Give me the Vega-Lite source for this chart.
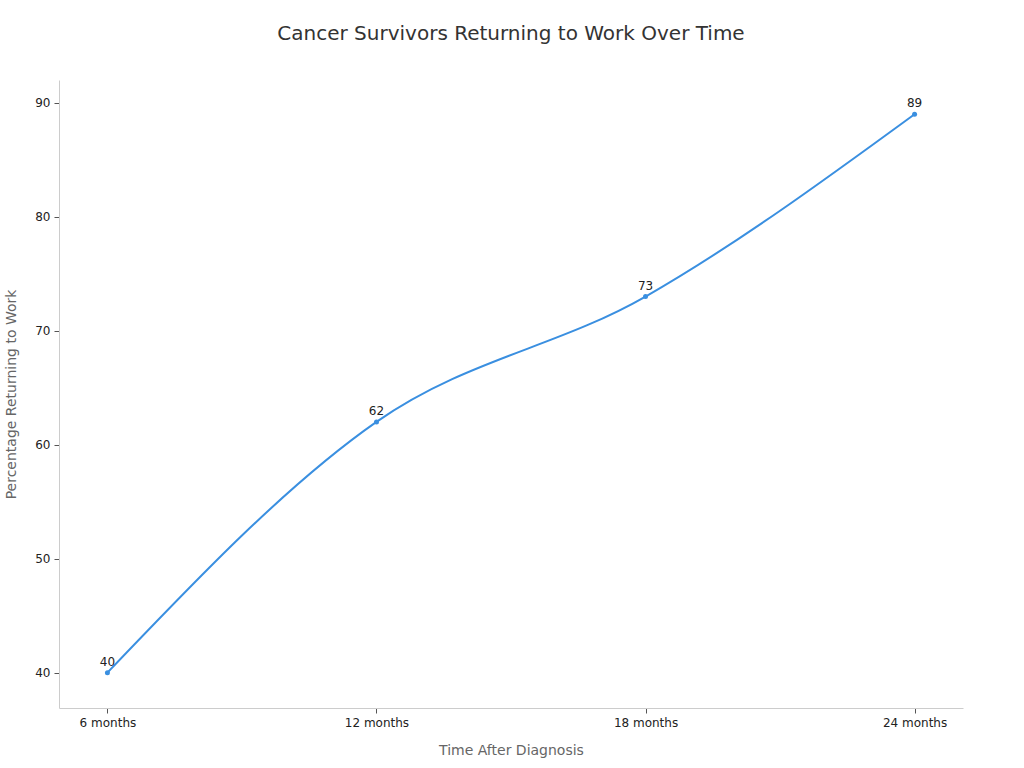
{
  "$schema": "https://vega.github.io/schema/vega-lite/v6.json",
  "autosize": {"type": "none"},
  "width": 904,
  "height": 628,
  "padding": {"left": 59, "top": 80, "right": 61, "bottom": 60},
  "background": "white",
  "title": {
    "text": "Cancer Survivors Returning to Work Over Time",
    "fontSize": 20,
    "fontWeight": "normal",
    "color": "#333333",
    "font": "DejaVu Sans",
    "offset": 36
  },
  "data": {
    "values": [
      {"time": "6 months", "pct": 40},
      {"time": "12 months", "pct": 62},
      {"time": "18 months", "pct": 73},
      {"time": "24 months", "pct": 89}
    ]
  },
  "encoding": {
    "x": {
      "field": "time",
      "type": "ordinal",
      "sort": null,
      "scale": {"type": "point", "padding": 0.18},
      "title": "Time After Diagnosis",
      "axis": {"labelAngle": 0, "titlePadding": 15}
    },
    "y": {
      "field": "pct",
      "type": "quantitative",
      "scale": {"domain": [36.9, 92], "nice": false, "zero": false},
      "title": "Percentage Returning to Work",
      "axis": {"values": [40, 50, 60, 70, 80, 90], "titlePadding": 16}
    }
  },
  "layer": [
    {
      "mark": {"type": "line", "interpolate": "monotone", "color": "#3a8fe0", "strokeWidth": 2}
    },
    {
      "mark": {"type": "point", "filled": true, "size": 25, "opacity": 1, "color": "#3a8fe0"}
    },
    {
      "mark": {"type": "text", "dy": -11, "fontSize": 12, "color": "#222222", "font": "DejaVu Sans"},
      "encoding": {"text": {"field": "pct", "type": "quantitative"}}
    }
  ],
  "config": {
    "view": {"stroke": null},
    "axis": {
      "grid": false,
      "domainColor": "#cccccc",
      "tickColor": "#555555",
      "tickSize": 5,
      "labelFont": "DejaVu Sans",
      "labelFontSize": 12,
      "labelColor": "#222222",
      "titleFont": "DejaVu Sans",
      "titleFontSize": 14,
      "titleFontWeight": "normal",
      "titleColor": "#666666",
      "labelPadding": 4
    }
  }
}
